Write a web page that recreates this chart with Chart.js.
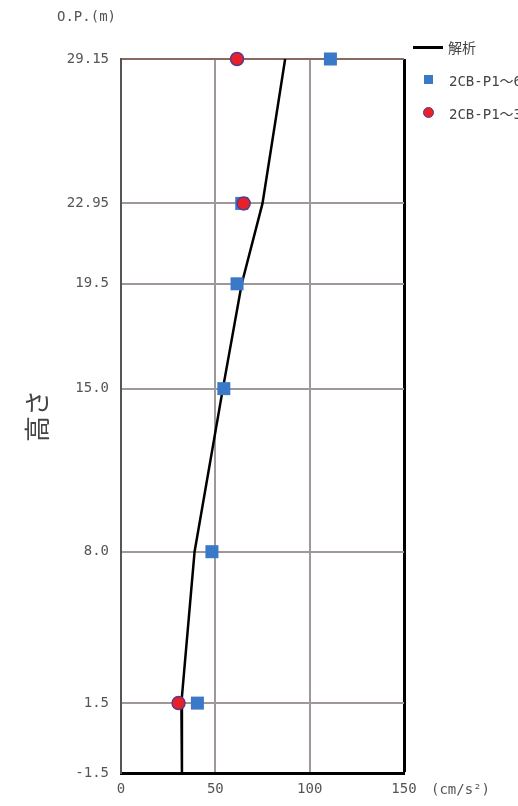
<!DOCTYPE html>
<html><head><meta charset="utf-8">
<script src="https://cdn.jsdelivr.net/npm/chart.js@4.4.1/dist/chart.umd.min.js"></script>
<style>
html,body{margin:0;padding:0;background:#fff;width:518px;height:806px;overflow:hidden;}
#wrap{position:relative;width:518px;height:806px;}
canvas{position:absolute;left:0;top:0;}
.t{position:absolute;font-family:"DejaVu Sans Mono","Liberation Mono",monospace;font-size:14px;color:#555;white-space:nowrap;}
.lg{position:absolute;font-family:"DejaVu Sans Mono","Noto Sans CJK JP",monospace;font-size:14px;color:#444;white-space:nowrap;}
</style></head>
<body><div id="wrap">
<canvas id="c" width="518" height="806"></canvas>
<div class="t" style="left:57px;top:8px;">O.P.(m)</div>
<div class="t" style="left:431px;top:781px;">(cm/s²)</div>
<div style="position:absolute;left:413px;top:46px;width:30px;height:2.5px;background:#000;"></div>
<div class="lg" style="left:448px;top:37px;font-family:'Noto Sans CJK JP';">解析</div>
<div style="position:absolute;left:424px;top:75px;width:9px;height:9px;background:#3a78c8;"></div>
<div class="lg" style="left:449px;top:70px;">2CB-P1～6F</div>
<div style="position:absolute;left:423px;top:107px;width:9px;height:9px;border-radius:50%;background:#e8202a;border:1.5px solid #5a3a8a;"></div>
<div class="lg" style="left:449px;top:103px;">2CB-P1～3F</div>
</div>
<script>
// Heights (O.P. m) used as axis ticks
const heightTicks = [29.15, 22.95, 19.5, 15.0, 8.0, 1.5, -1.5];
const xTicks = [0, 50, 100, 150];
// 解析 (analysis) line
const analysisHeights = [29.15, 22.95, 19.5, 15.0, 8.0, 1.5, -1.5];
const analysisValues  = [87, 75, 64, 54, 39, 32, 32.3];
// 2CB-P1～6F (squares)
const sqHeights = [29.15, 22.95, 19.5, 15.0, 8.0, 1.5];
const sqValues  = [111, 64, 61.5, 54.5, 48.2, 40.5];
// 2CB-P1～3F (circles)
const ciHeights = [29.15, 22.95, 1.5];
const ciValues  = [61.5, 65, 30.5];

const toXY = (xs, ys) => xs.map((v, i) => ({x: v, y: ys[i]}));

new Chart(document.getElementById('c'), {
  type: 'scatter',
  data: {
    datasets: [
      {label: '解析', data: toXY(analysisValues, analysisHeights), showLine: true,
       borderColor: '#000', borderWidth: 2.5, pointRadius: 0, tension: 0, order: 3},
      {label: '2CB-P1～6F', data: toXY(sqValues, sqHeights), pointStyle: 'rect', clip: false,
       pointRadius: 9.2, backgroundColor: '#3a78c8', borderColor: '#3a78c8', borderWidth: 0, order: 2},
      {label: '2CB-P1～3F', data: toXY(ciValues, ciHeights), pointStyle: 'circle', clip: false,
       pointRadius: 6.5, backgroundColor: '#e8202a', borderColor: '#5a3a8a', borderWidth: 1.5, order: 1}
    ]
  },
  options: {
    responsive: false, animation: false,
    layout: {padding: {left: 0, right: 114, top: 59, bottom: 0}},
    plugins: {legend: {display: false}, tooltip: {enabled: false}},
    scales: {
      x: {
        type: 'linear', min: 0, max: 150,
        afterBuildTicks: s => { s.ticks = xTicks.map(v => ({value: v})); },
        afterFit: s => { s.height = 33; },
        border: {color: '#000', width: 3},
        grid: {
          color: ctx => ctx.tick && ctx.tick.value === 150 ? '#000' : (ctx.tick && ctx.tick.value === 0 ? '#555' : '#a09898'),
          lineWidth: ctx => ctx.tick && ctx.tick.value === 150 ? 3 : 2,
          drawTicks: false
        },
        ticks: {color: '#555', font: {family: 'DejaVu Sans Mono', size: 14}, padding: 8, maxRotation: 0}
      },
      y: {
        type: 'linear', min: -1.5, max: 29.15,
        afterBuildTicks: s => { s.ticks = heightTicks.map(v => ({value: v})); },
        afterFit: s => { s.width = 121; },
        border: {color: '#555', width: 2},
        grid: {
          color: ctx => ctx.tick && ctx.tick.value === 29.15 ? '#8a6a60' : '#a09898',
          lineWidth: 2, drawTicks: false
        },
        ticks: {
          color: '#555', font: {family: 'DejaVu Sans Mono', size: 14}, padding: 12,
          callback: v => v === 15 ? '15.0' : (v === 8 ? '8.0' : String(v))
        },
        title: {display: true, text: '高さ', color: '#444',
          font: {family: 'Noto Sans CJK JP', size: 26}, padding: {top: 22, bottom: 0}}
      }
    }
  }
});
</script>
</body></html>
